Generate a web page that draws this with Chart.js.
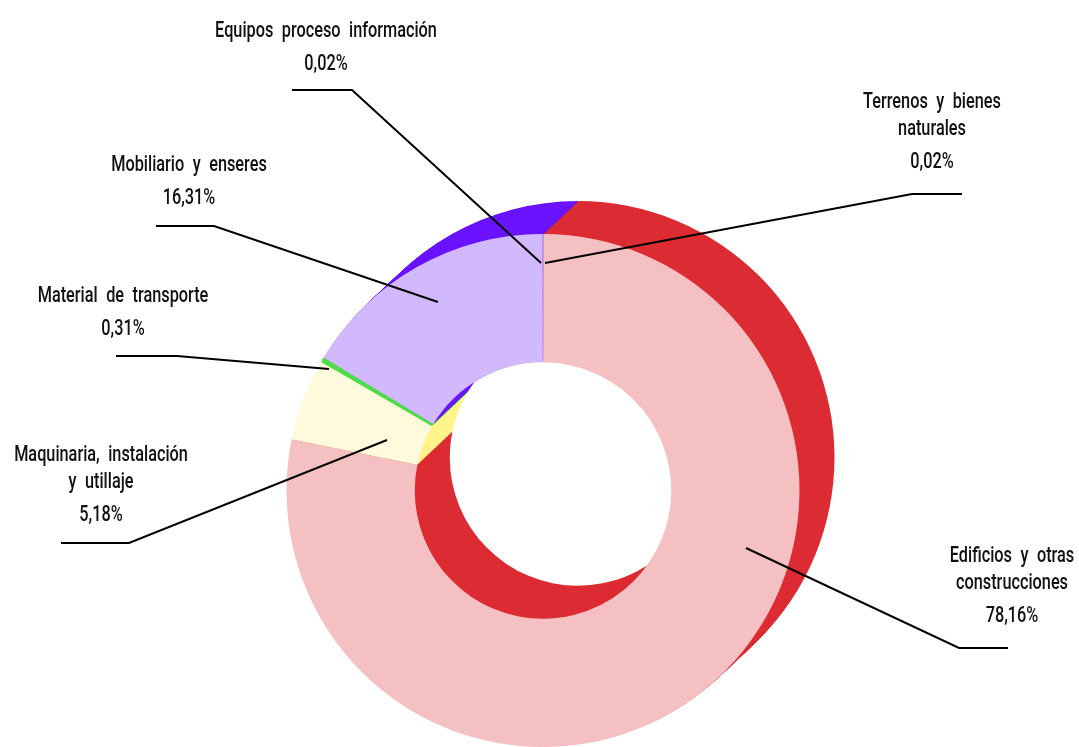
<!DOCTYPE html>
<html>
<head>
<meta charset="utf-8">
<script src="https://cdn.jsdelivr.net/npm/chart.js@4.4.1/dist/chart.umd.min.js"></script>
<style>
  html, body { margin: 0; padding: 0; background: #fff; }
  #wrap { position: relative; width: 1079px; height: 747px; }
</style>
</head>
<body>
<div id="wrap"><canvas id="pieChart"></canvas></div>
<script>
// data
const categories = ['Terrenos y bienes naturales', 'Edificios y otras construcciones', 'Maquinaria, instalación y utillaje',
  'Material de transporte', 'Mobiliario y enseres', 'Equipos proceso información'];
const shares = [0.02, 78.16, 5.18, 0.31, 16.31, 0.02];

// top face / extruded side colours
const faceColors = ['#b89ef0', '#f4c0c2', '#fffadc', '#4cdc4c', '#d2b8ff', '#b89ef0'];
const sideColors = ['#c01818', '#dc2c33', '#fff38a', '#3cc83c', '#6a14ff', '#5a10e0'];

// label text lines and where they sit
const labelLines = [
  ['Terrenos y bienes', 'naturales'],
  ['Edificios y otras', 'construcciones'],
  ['Maquinaria, instalación', 'y utillaje'],
  ['Material de transporte'],
  ['Mobiliario y enseres'],
  ['Equipos proceso información']
];
const labelPos = [
  { x: 932, y: 108, line: [[962, 194], [912, 194], [545, 263]] },
  { x: 1012, y: 562, line: [[746, 548], [959, 648], [1008, 648]] },
  { x: 101, y: 461, line: [[61, 543], [129, 543], [387, 440]] },
  { x: 123, y: 302, line: [[116, 356], [177, 356], [329, 369]] },
  { x: 189, y: 171, line: [[156, 226], [214, 226], [438, 302]] },
  { x: 326, y: 37, line: [[292, 90], [352, 90], [541, 263]] }
];

const depth = { dx: 35, dy: -33, steps: 40 };

function fmt(v) {
  return v.toFixed(2).replace('.', ',') + '%';
}

const extrude = {
  id: 'extrude',
  beforeDatasetsDraw(chart) {
    const ctx = chart.ctx;
    const arcs = chart.getDatasetMeta(0).data;
    for (let k = depth.steps; k >= 1; k--) {
      ctx.save();
      ctx.translate(depth.dx * k / depth.steps, depth.dy * k / depth.steps);
      arcs.forEach((arc, i) => {
        const p = arc.getProps(['x', 'y', 'startAngle', 'endAngle', 'innerRadius', 'outerRadius'], true);
        ctx.beginPath();
        ctx.arc(p.x, p.y, p.outerRadius, p.startAngle, p.endAngle);
        ctx.arc(p.x, p.y, p.innerRadius, p.endAngle, p.startAngle, true);
        ctx.closePath();
        ctx.fillStyle = sideColors[i];
        ctx.fill();
      });
      ctx.restore();
    }
  }
};

const callouts = {
  id: 'callouts',
  afterDatasetsDraw(chart) {
    const ctx = chart.ctx;
    ctx.save();
    ctx.strokeStyle = '#000';
    ctx.lineWidth = 2;
    labelPos.forEach(pos => {
      ctx.beginPath();
      pos.line.forEach((pt, j) => j ? ctx.lineTo(pt[0], pt[1]) : ctx.moveTo(pt[0], pt[1]));
      ctx.stroke();
    });
    ctx.fillStyle = '#111';
    ctx.textAlign = 'center';
    ctx.textBaseline = 'alphabetic';
    ctx.font = '500 22px Roboto, "DejaVu Sans Condensed", sans-serif';
    ctx.wordSpacing = '6px';
    labelLines.forEach((lines, i) => {
      const pos = labelPos[i];
      const rows = lines.concat([fmt(shares[i])]);
      rows.forEach((t, j) => {
        const y = pos.y + j * 27 + (j === rows.length - 1 ? 6 : 0);
        ctx.save();
        ctx.translate(pos.x, y);
        ctx.scale(0.74, 1);
        ctx.fillText(t, 0, 0);
        ctx.restore();
      });
    });
    ctx.restore();
  }
};

new Chart(document.getElementById('pieChart'), {
  type: 'doughnut',
  data: {
    labels: categories,
    datasets: [{
      data: shares,
      backgroundColor: faceColors,
      borderWidth: 0
    }]
  },
  options: {
    responsive: true,
    maintainAspectRatio: false,
    animation: false,
    cutout: '50%',
    layout: {
      padding: { left: 286, right: 279, top: 234, bottom: 0 }
    },
    plugins: {
      legend: { display: false },
      tooltip: { enabled: false }
    }
  },
  plugins: [extrude, callouts]
});
</script>
</body>
</html>
